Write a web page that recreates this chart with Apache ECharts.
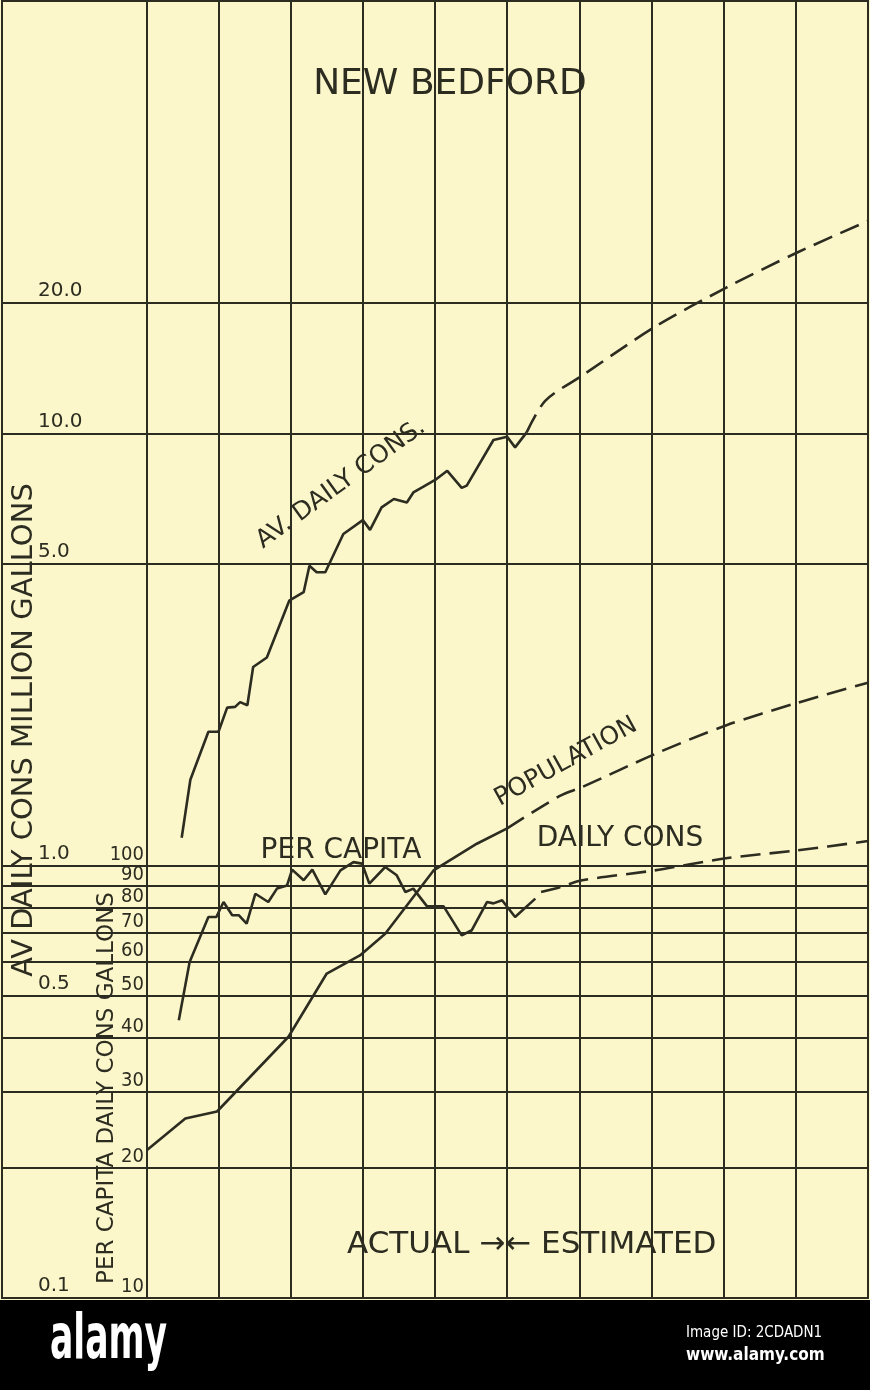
<!DOCTYPE html>
<html>
<head>
<meta charset="utf-8">
<title>New Bedford</title>
<script src="https://cdn.jsdelivr.net/npm/echarts@6/dist/echarts.min.js"></script>
<style>
  html, body { margin: 0; padding: 0; background: #fbf7cb; }
  #chart { width: 870px; height: 1390px; }
</style>
</head>
<body>
<div id="chart"></div>
<script>
// x = year (one column per decade), av. daily cons in million gallons,
// per capita in gallons, population in thousands (same scale as per capita)
const avYears = [1874.9, 1876.1, 1878.6, 1880.0, 1881.2, 1882.3, 1883.0, 1884.0, 1884.8, 1886.7,
  1889.8, 1891.8, 1892.6, 1893.6, 1894.8, 1897.3, 1900.0, 1901.0, 1902.6, 1904.3, 1906.1,
  1907.0, 1908.4, 1910.2, 1911.7, 1913.7, 1914.4, 1918.1, 1920.0, 1921.1, 1922.7]
const avValues = [1.16, 1.58, 2.04, 2.04, 2.32, 2.33, 2.39, 2.35, 2.88, 3.03,
  4.10, 4.29, 4.94, 4.77, 4.77, 5.85, 6.30, 5.98, 6.74, 7.05, 6.92,
  7.30, 7.53, 7.84, 8.19, 7.48, 7.57, 9.65, 9.82, 9.28, 10.05]
const avEstYears = [1922.7, 1925.3, 1930.4, 1940.4, 1950.3, 1960.2, 1970]
const avEstValues = [10.05, 11.9, 13.6, 17.6, 21.7, 26.2, 31.0]

const pcYears = [1874.5, 1876.0, 1878.6, 1879.7, 1880.7, 1881.9, 1882.8, 1883.9, 1885.1, 1886.9,
  1888.1, 1889.5, 1890.2, 1891.8, 1893.0, 1894.8, 1896.9, 1898.7, 1899.9, 1900.9, 1903.1,
  1904.7, 1905.9, 1907.0, 1908.9, 1911.2, 1913.7, 1915.1, 1917.2, 1918.1, 1919.3, 1921.1, 1923.9]
const pcValues = [43.9, 59.9, 76.1, 76.1, 82.4, 76.8, 76.8, 73.4, 86.1, 82.4,
  88.5, 90.0, 97.9, 92.5, 97.9, 85.8, 97.5, 101.9, 101.1, 90.9, 99.3,
  95.0, 86.9, 88.5, 80.5, 80.5, 69.0, 70.9, 82.4, 81.8, 83.2, 76.1, 83.9]
const pcEstYears = [1924.7, 1927.3, 1930.4, 1940.4, 1950.3, 1960.2, 1970]
const pcEstValues = [86.9, 89.2, 92.5, 97.5, 104, 108.5, 114]

const popYears = [1870.1, 1875.4, 1879.8, 1889.7, 1895.0, 1899.6, 1903.1, 1909.8, 1915.8, 1920.0]
const popValues = [22.0, 26.0, 27.0, 40.2, 56.3, 62.0, 69.6, 97.5, 112.4, 122]
const popEstYears = [1920.0, 1927.3, 1930.4, 1940.4, 1950.3, 1960.2, 1970]
const popEstValues = [122, 145, 152, 181, 211, 238, 265]

// ruled lines and their figures
const avTicks = [20, 10, 5, 1, 0.5, 0.1]
const avTickLabels = ['20.0', '10.0', '5.0', '1.0', '0.5', '0.1']
const pcTicks = [100, 90, 80, 70, 60, 50, 40, 30, 20, 10]
const pcTickLabels = ['100', '90', '80', '70', '60', '50', '40', '30', '20', '10']

const ink = '#2d2c20'
const paper = '#fbf7cb'
const font = "'DejaVu Sans', sans-serif"
const narrow = "'Liberation Sans Narrow', 'DejaVu Sans Condensed', 'Liberation Sans', sans-serif"

const pairs = (xs, ys) => xs.map((x, i) => [x, ys[i]])
// no ruled line at 1860, the label column is two decades wide
const xLineColors = Array.from({ length: 13 }, (_, i) => (i === 1 ? 'rgba(0,0,0,0)' : ink))

const solid = { color: ink, width: 2.6 }
const dashed = { color: ink, width: 2.6, type: [20, 9] }

function ruled(ticks, labels, labelOpts) {
  return {
    silent: true,
    symbol: 'none',
    z: 1,
    lineStyle: { color: ink, width: 2, type: 'solid' },
    emphasis: { disabled: true },
    label: Object.assign({ show: true, position: 'insideStartTop', color: ink, verticalAlign: 'bottom' }, labelOpts),
    data: ticks.map((v, i) => ({ yAxis: v, label: { formatter: labels[i] } }))
  }
}

function txt(text, x, y, size, deg, style, extra) {
  return Object.assign({
    type: 'text', x: x, y: y, rotation: (deg || 0) * Math.PI / 180, z: 10, silent: true,
    style: Object.assign({
      text: text, fill: ink, fontSize: size, fontFamily: font,
      align: 'center', verticalAlign: 'middle', textAlign: 'center', textVerticalAlign: 'middle'
    }, style || {})
  }, extra || {})
}

const left = { align: 'left', textAlign: 'left' }
const banner = { align: 'left', textAlign: 'left', fill: '#fff', fontFamily: narrow }

const chart = echarts.init(document.getElementById('chart'))

const option = {
  animation: false,
  backgroundColor: paper,
  grid: {
    left: 2, right: 2, top: 1, bottom: 92,
    show: true, backgroundColor: paper, borderColor: ink, borderWidth: 2,
    containLabel: false, outerBoundsMode: 'none'
  },
  xAxis: {
    type: 'value', min: 1850, max: 1970, interval: 10,
    axisLine: { show: false }, axisTick: { show: false }, axisLabel: { show: false },
    splitLine: { show: true, showMinLine: true, showMaxLine: true, lineStyle: { color: xLineColors, width: 2 } }
  },
  yAxis: [
    {
      type: 'log', logBase: 10, min: 0.1, max: 100,
      axisLine: { show: false }, axisTick: { show: false }, axisLabel: { show: false }, splitLine: { show: false }
    },
    {
      type: 'log', logBase: 10, min: 10, max: 10000,
      axisLine: { show: false }, axisTick: { show: false }, axisLabel: { show: false }, splitLine: { show: false }
    }
  ],
  series: [
    {
      name: 'Av. daily cons', type: 'line', yAxisIndex: 0, showSymbol: false, z: 3,
      lineStyle: solid, data: pairs(avYears, avValues),
      markLine: ruled(avTicks, avTickLabels, { distance: [36, 2], align: 'left', fontSize: 20, fontFamily: font })
    },
    {
      name: 'Av. daily cons est.', type: 'line', yAxisIndex: 0, showSymbol: false, z: 3, smooth: 0.3,
      lineStyle: dashed, data: pairs(avEstYears, avEstValues)
    },
    {
      name: 'Per capita', type: 'line', yAxisIndex: 1, showSymbol: false, z: 3,
      lineStyle: solid, data: pairs(pcYears, pcValues),
      markLine: ruled(pcTicks, pcTickLabels, { distance: [142, 1], align: 'right', fontSize: 20, fontFamily: narrow })
    },
    {
      name: 'Per capita est.', type: 'line', yAxisIndex: 1, showSymbol: false, z: 3, smooth: 0.3,
      lineStyle: dashed, data: pairs(pcEstYears, pcEstValues)
    },
    {
      name: 'Population', type: 'line', yAxisIndex: 1, showSymbol: false, z: 3,
      lineStyle: solid, data: pairs(popYears, popValues)
    },
    {
      name: 'Population est.', type: 'line', yAxisIndex: 1, showSymbol: false, z: 3, smooth: 0.3,
      lineStyle: dashed, data: pairs(popEstYears, popEstValues)
    }
  ],
  graphic: [
    txt('NEW BEDFORD', 450, 85, 36),
    txt('AV. DAILY CONS.', 341, 484, 25, 36),
    txt('POPULATION', 566, 762, 25, 29),
    txt('PER CAPITA', 341, 851, 28),
    txt('DAILY CONS', 620, 839, 28),
    txt('ACTUAL →← ESTIMATED', 347, 1245, 31, 0, left),
    txt('AV DAILY CONS MILLION GALLONS', 24, 730, 29, 90),
    txt('PER CAPITA DAILY CONS GALLONS', 107, 1088, 23, 90),
    { type: 'rect', x: 0, y: 1300, z: 5, silent: true, shape: { width: 870, height: 90 }, style: { fill: '#000' } },
    txt('alamy', 50, 1342, 62, 0, Object.assign({ fontWeight: 'bold' }, banner), { scaleX: 0.62 }),
    txt('Image ID: 2CDADN1', 686, 1333, 15, 0, banner),
    txt('www.alamy.com', 686, 1356, 17, 0, Object.assign({ fontWeight: 'bold' }, banner))
  ]
}

chart.setOption(option)
</script>
</body>
</html>
